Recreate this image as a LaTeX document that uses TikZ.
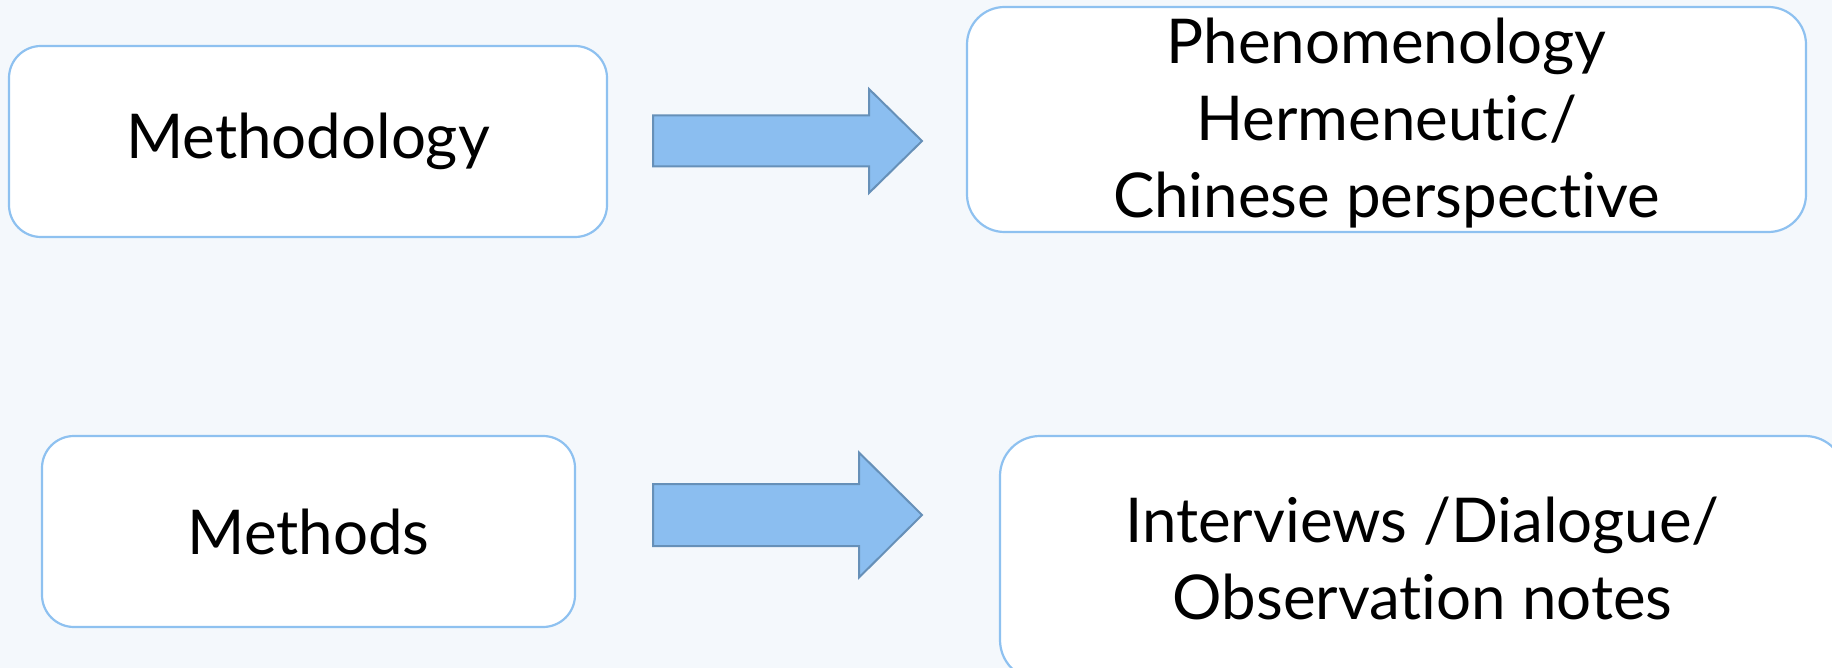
\documentclass[tikz,border=0pt]{standalone}
\usepackage{fontspec}
\setmainfont{Lato}[Ligatures={NoCommon,NoRequired}]
\definecolor{bgblue}{HTML}{F4F8FC}
\definecolor{boxline}{HTML}{8EC1F0}
\definecolor{arrfill}{HTML}{8BBEF0}
\definecolor{arrline}{HTML}{6690B8}
\begin{document}
\begin{tikzpicture}[
  box/.style={draw=boxline, line width=1.1pt, fill=white, align=center,
    font=\fontsize{30.9}{38.5}\selectfont, inner sep=0pt},
  blockarr/.style={draw=arrline, line width=1pt, fill=arrfill, line join=miter}]
\path[use as bounding box, fill=bgblue] (0,0) rectangle (916pt,-334pt);
\node[box, minimum width=299pt, minimum height=95.5pt, rounded corners=16pt]
  (methodology) at (154pt,-70.75pt) {Methodology};
\node[box, minimum width=419.5pt, minimum height=112.5pt, rounded corners=18.75pt,
  text depth=2pt]
  (approach) at (693.25pt,-59.75pt) {Phenomenology\\Hermeneutic/\\Chinese perspective};
\node[box, minimum width=266.5pt, minimum height=95.5pt, rounded corners=16pt]
  (methods) at (154.25pt,-265.75pt) {Methods};
\node[box, minimum width=422.5pt, minimum height=122pt, rounded corners=20pt]
  (datasources) at (711.25pt,-279pt) {Interviews /Dialogue/\\Observation notes};
% block arrows between the two columns
\coordinate (arr1) at (326.5pt,-70.5pt);
\draw[blockarr] (arr1) -- ++(0,12.75pt) -- ++(108pt,0) -- ++(0,13.25pt)
  -- ++(26.5pt,-26pt) -- ++(-26.5pt,-26pt) -- ++(0,13.25pt) -- ++(-108pt,0) -- cycle;
\coordinate (arr2) at (326.5pt,-257.5pt);
\draw[blockarr] (arr2) -- ++(0,15.5pt) -- ++(103pt,0) -- ++(0,15.75pt)
  -- ++(31.5pt,-31.25pt) -- ++(-31.5pt,-31.25pt) -- ++(0,15.75pt) -- ++(-103pt,0) -- cycle;
\end{tikzpicture}
\end{document}
